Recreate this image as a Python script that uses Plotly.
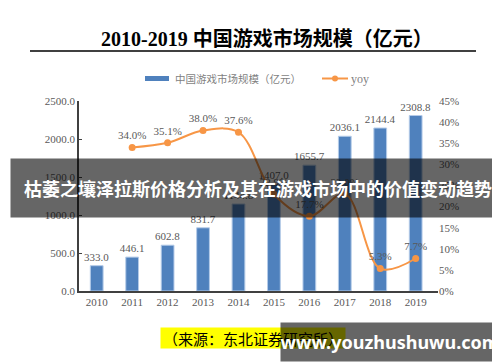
import plotly.graph_objects as go

years = ["2010", "2011", "2012", "2013", "2014", "2015", "2016", "2017", "2018", "2019"]
market = [333.0, 446.1, 602.8, 831.7, 1144.8, 1407.0, 1655.7, 2036.1, 2144.4, 2308.8]
yoy_years = ["2011", "2012", "2013", "2014", "2015", "2016", "2017", "2018", "2019"]
yoy = [0.340, 0.351, 0.380, 0.376, 0.229, 0.177, 0.230, 0.053, 0.077]

title_text = "2010-2019 中国游戏市场规模（亿元）"
bar_name = "中国游戏市场规模（亿元）"
line_name = "yoy"
source_text = "（来源：东北证券研究所）"
banner_text = "枯萎之壤泽拉斯价格分析及其在游戏市场中的价值变动趋势"
watermark_text = "www.youzhushuwu.com"

W, H = 500, 362
L, R, T, B = 71, 430, 93, 283

def px(x):
    return (x - L) / (R - L)

def py(y):
    return (B - y) / (B - T)

SERIF = "Liberation Serif, Times New Roman, serif"
CJK = "Noto Sans CJK SC, sans-serif"
GRAY = "#595959"
BLUE = "#4f81bd"
ORANGE = "#f79646"

fig = go.Figure()
fig.add_trace(go.Bar(
    x=years, y=market, name=bar_name,
    marker=dict(color=BLUE, line=dict(color="#b4cbe8", width=1)),
    texttemplate="%{y:.1f}", textposition="outside", constraintext="none",
    textfont=dict(family=SERIF, size=11, color=GRAY),
    cliponaxis=False, width=0.36,
))
fig.add_trace(go.Scatter(
    x=yoy_years, y=yoy, name=line_name, yaxis="y2",
    mode="lines+markers+text",
    line=dict(color=ORANGE, width=2, shape="spline", smoothing=1),
    marker=dict(color=ORANGE, size=7),
    texttemplate="%{y:.1%}", textposition="top center",
    textfont=dict(family=SERIF, size=11, color=GRAY),
    cliponaxis=False,
))

fig.update_layout(
    width=W, height=H,
    margin=dict(l=L, r=W - R, t=T, b=H - B),
    paper_bgcolor="white", plot_bgcolor="white",
    showlegend=False,
    xaxis=dict(type="category", showline=True, linecolor="#404040", linewidth=1.5,
               ticks="", showgrid=False,
               tickfont=dict(family=SERIF, size=11, color=GRAY)),
    yaxis=dict(range=[0, 2500], dtick=500, tickformat=".1f", showgrid=False,
               showline=True, linecolor="#404040", linewidth=1.5,
               ticks="inside", ticklen=3, tickcolor="#404040", zeroline=False,
               tickfont=dict(family=SERIF, size=11, color=GRAY)),
    yaxis2=dict(range=[0, 0.45], dtick=0.05, tickformat=".0%", overlaying="y",
                side="right", showgrid=False, showline=False, zeroline=False,
                ticks="", tickfont=dict(family=SERIF, size=11, color=GRAY)),
)

shapes = [
    dict(type="line", xref="paper", yref="paper", x0=px(22), x1=px(468),
         y0=py(43), y1=py(43), line=dict(color="black", width=1.5)),
    dict(type="rect", xref="paper", yref="paper", x0=px(137), x1=px(161),
         y0=py(68), y1=py(73), fillcolor=BLUE, line=dict(width=0)),
    dict(type="line", xref="paper", yref="paper", x0=px(314), x1=px(340),
         y0=py(70.5), y1=py(70.5), line=dict(color=ORANGE, width=2)),
    dict(type="circle", xref="paper", yref="paper", x0=px(324), x1=px(330),
         y0=py(67.5), y1=py(73.5), fillcolor=ORANGE, line=dict(width=0)),
]
fig.update_layout(shapes=shapes)

annotations = [
    dict(text="<b>" + title_text + "</b>", x=px(259), y=py(30), xref="paper", yref="paper",
         xanchor="center", yanchor="middle", showarrow=False,
         font=dict(family="Liberation Serif, Noto Sans CJK SC, serif", size=20, color="black")),
    dict(text=bar_name, x=px(165), y=py(70.5), xref="paper", yref="paper",
         xanchor="left", yanchor="middle", showarrow=False,
         font=dict(family=CJK, size=10.5, color="#7f7f7f")),
    dict(text=line_name, x=px(341), y=py(70.5), xref="paper", yref="paper",
         xanchor="left", yanchor="middle", showarrow=False,
         font=dict(family=SERIF, size=12, color="#7f7f7f")),
    dict(text=source_text, x=px(245), y=py(330), xref="paper", yref="paper",
         xanchor="center", yanchor="middle", showarrow=False,
         width=184, height=20, borderpad=0, bgcolor="#ffff00",
         font=dict(family=CJK, size=15, color="black")),
    dict(text="<b>" + banner_text + "</b>", x=px(250), y=py(180), xref="paper", yref="paper",
         xanchor="center", yanchor="middle", showarrow=False,
         width=494, height=58, borderpad=0, bgcolor="rgba(0,0,0,0.6)",
         font=dict(family=CJK, size=18, color="white")),
    dict(text="<b>" + watermark_text + "</b>", x=px(382), y=py(334), xref="paper", yref="paper",
         xanchor="center", yanchor="middle", showarrow=False,
         width=218, height=38, borderpad=0, bgcolor="rgba(0,0,0,0.6)",
         font=dict(family="Noto Sans, Open Sans, sans-serif", size=18, color="white")),
]
fig.update_layout(annotations=annotations)

fig.write_html("out.html")
